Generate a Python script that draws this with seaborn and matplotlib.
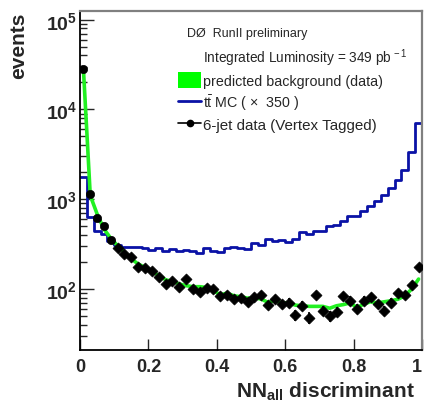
import numpy as np
import pandas as pd
import matplotlib
matplotlib.use("Agg")
import matplotlib.pyplot as plt
import seaborn as sns
from matplotlib.lines import Line2D
from matplotlib.patches import Patch
from matplotlib.ticker import FixedLocator, LogLocator, FuncFormatter, NullFormatter

# NN_all bins (50 bins of width 0.02)
bin_edges = np.linspace(0.0, 1.0, 51)
bin_centers = 0.5 * (bin_edges[:-1] + bin_edges[1:])

# 6-jet data (vertex tagged)
data_counts = [28000, 1140, 617, 500, 354, 288, 243, 225, 176, 173,
               157, 136, 115, 123, 106, 128, 100, 93, 103, 99,
               84, 86, 77, 79, 71, 81, 86, 66, 77, 68,
               70, 51, 65, 48, 86, 57, 50, 56, 83, 74,
               60, 74, 81, 68, 57, 70, 90, 86, 111, 176]

# predicted background (from data)
bkg_pred = [28000, 1100, 685, 465, 367, 303, 256, 216, 190, 174,
            157, 141, 127, 121, 114, 109, 106, 106, 104, 96,
            86, 90, 84, 82, 79, 80, 77, 71, 74, 70,
            70, 66, 65, 64, 64, 64, 61, 65, 67, 70,
            62, 68, 72, 70, 72, 74, 77, 84, 100, 129]

# ttbar MC scaled x350
ttbar_mc = [1750, 640, 447, 409, 340, 309, 291, 291, 291, 285,
            274, 285, 265, 280, 265, 274, 263, 250, 284, 267,
            260, 284, 296, 284, 279, 325, 309, 360, 340, 354,
            336, 360, 435, 409, 442, 442, 500, 516, 577, 655,
            655, 733, 833, 963, 1122, 1343, 1636, 2133, 3380, 7070]

x_ticks = [0, 0.2, 0.4, 0.6, 0.8, 1]
x_tick_labels = ["0", "0.2", "0.4", "0.6", "0.8", "1"]

df = pd.DataFrame({"nn": bin_centers, "data": data_counts,
                   "bkg": bkg_pred, "ttbar": ttbar_mc})

sns.set_style("ticks")
plt.rcParams["font.family"] = ["Liberation Sans", "DejaVu Sans"]
plt.rcParams["mathtext.fontset"] = "custom"
plt.rcParams["mathtext.rm"] = "Liberation Sans"
plt.rcParams["mathtext.it"] = "Liberation Sans:italic"
plt.rcParams["mathtext.bf"] = "Liberation Sans:bold"

GREEN = "#22f022"
BLUE = "#0a12a6"
LEG_FS = 10.3

fig = plt.figure(figsize=(4.24, 4.10), dpi=100)
ax = fig.add_axes([0.1887, 0.1439, 0.8066, 0.8276])

# ttbar MC histogram
sns.histplot(data=df, x="nn", weights="ttbar", bins=list(bin_edges),
             element="step", fill=False, color=BLUE, linewidth=2.0, ax=ax)

# predicted background curve
sns.lineplot(data=df, x="nn", y="bkg", color=GREEN, linewidth=2.6, ax=ax,
             legend=False, zorder=3)

# data points with errors
ax.errorbar(df["nn"], df["data"], yerr=np.sqrt(df["data"]), fmt="none",
            ecolor="black", elinewidth=1.2, zorder=4)
sns.scatterplot(data=df.iloc[:5], x="nn", y="data", marker="o", s=36,
                color="black", edgecolor="black", ax=ax, zorder=5)
sns.scatterplot(data=df.iloc[5:], x="nn", y="data", marker="D", s=32,
                color="black", edgecolor="black", ax=ax, zorder=5)

ax.set_yscale("log")
ax.set_xlim(0, 1)
ax.set_ylim(20.9, 1.26e5)

# ticks
ax.xaxis.set_major_locator(FixedLocator(x_ticks))
ax.set_xticklabels(x_tick_labels, fontsize=13, fontweight="bold")
ax.get_xticklabels()[-1].set_horizontalalignment("right")
ax.yaxis.set_major_locator(LogLocator(base=10))
ax.yaxis.set_minor_locator(LogLocator(base=10, subs=np.arange(2, 10)))
ax.yaxis.set_minor_formatter(NullFormatter())
ax.yaxis.set_major_formatter(FuncFormatter(
    lambda v, p: r"$\mathbf{10^{%d}}$" % round(np.log10(v))))
ax.tick_params(axis="x", which="major", direction="in", length=8, width=1.0,
               pad=6, top=False)
ax.tick_params(axis="y", which="major", direction="in", length=10, width=1.0,
               pad=2, labelsize=14, right=False)
ax.tick_params(axis="y", which="minor", direction="in", length=5, width=1.0,
               right=False)

for side in ["left", "bottom"]:
    ax.spines[side].set_color("black")
    ax.spines[side].set_linewidth(1.3)
for side in ["top", "right"]:
    ax.spines[side].set_visible(True)
    ax.spines[side].set_color("#808080")
    ax.spines[side].set_linewidth(1.6)

# axis titles
ax.set_xlabel(r"NN$_{\mathbf{all}}$ discriminant", fontsize=15, fontweight="bold")
ax.xaxis.label.set_horizontalalignment("right")
ax.xaxis.label.set_verticalalignment("baseline")
ax.xaxis.set_label_coords(0.98, -0.139)
ax.set_ylabel("events", fontsize=15, fontweight="bold", loc="top")
ax.yaxis.set_label_coords(-0.152, 0.996)

# legend
ax.text(0.313, 0.934, "DØ  RunII preliminary", transform=ax.transAxes,
        fontsize=9.0, va="center", ha="left")
ax.text(0.36, 0.864, r"Integrated Luminosity = 349 pb$^{\,-1}$",
        transform=ax.transAxes, fontsize=9.8, va="center", ha="left")
handles = [
    Patch(facecolor="#00ff00", edgecolor="none"),
    Line2D([], [], color=BLUE, linewidth=2.0),
    Line2D([], [], color="black", linewidth=1.2, marker="o", markersize=4.5),
]
labels = ["predicted background (data)",
          r"$\mathrm{t\bar{t}}$ MC ( $\times$  350 )",
          "6-jet data (Vertex Tagged)"]
leg = ax.legend(handles, labels, loc="upper left", bbox_to_anchor=(0.287, 0.819),
                frameon=False, fontsize=LEG_FS, handlelength=1.6, handleheight=1.35,
                handletextpad=0.15, labelspacing=0.3, borderpad=0, borderaxespad=0)
leg.get_texts()[2].set_fontsize(10.9)

fig.savefig("out.png", dpi=100)
